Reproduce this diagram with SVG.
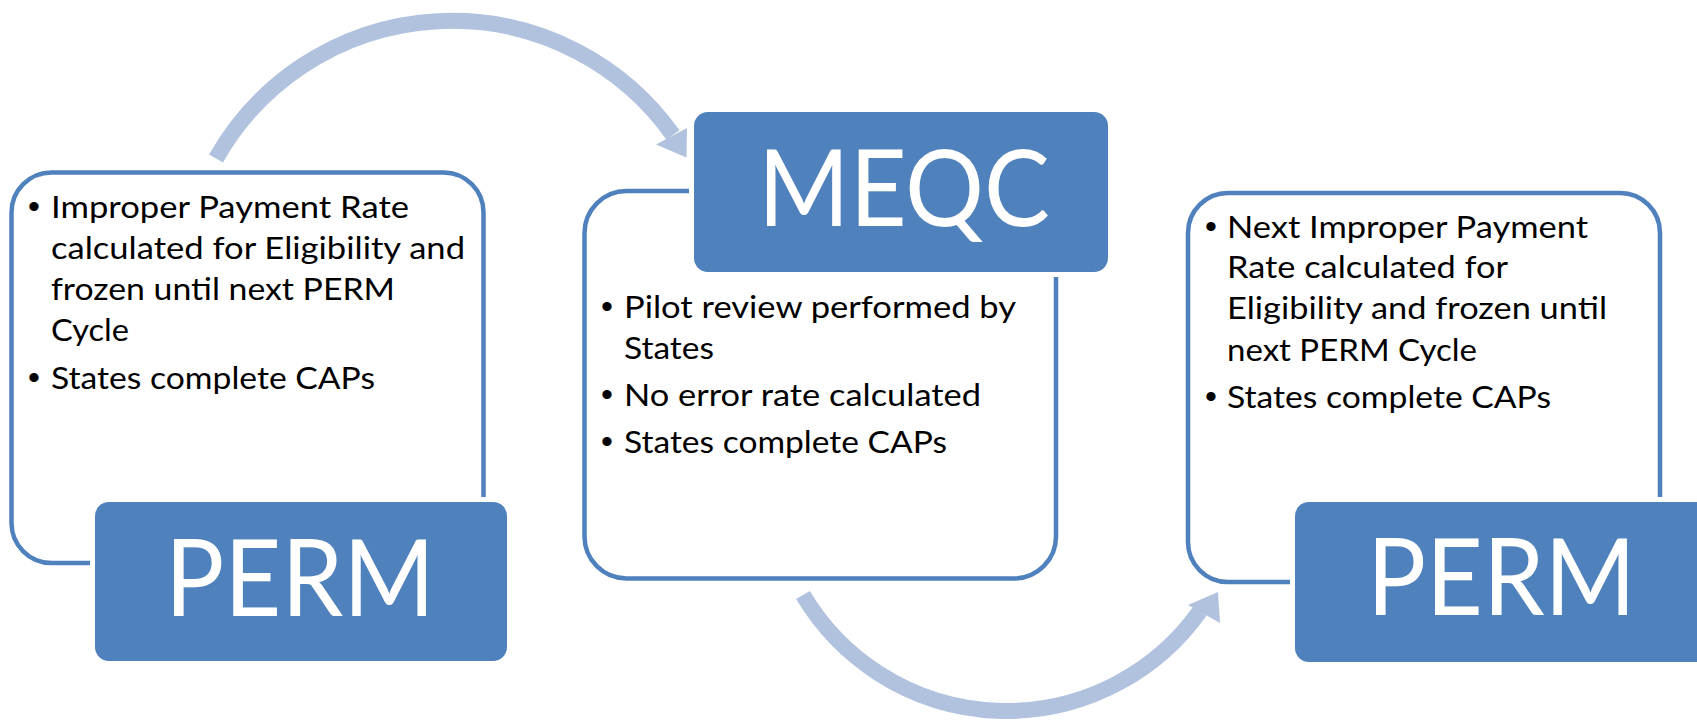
<svg xmlns="http://www.w3.org/2000/svg" width="1697" height="720" viewBox="0 0 1697 720">
<style>
.outline{fill:#FFFFFF;stroke:#4F81BD;stroke-width:4.5}
.head{fill:#4F81BD;stroke:#FFFFFF;stroke-width:10;paint-order:stroke}
.big{font-family:Lato,"Liberation Sans",sans-serif;font-size:106px;fill:#FFFFFF}
.txt{font-family:Lato,"Liberation Sans",sans-serif;font-size:31px;fill:#000000}
.bul{font-family:"Liberation Sans",sans-serif;font-size:34px;fill:#000000}
.arc{fill:none;stroke:#B1C2DE;stroke-width:16}
.tip{fill:#B1C2DE}
</style>
<rect width="1697" height="720" fill="#FFFFFF"/>
<g id="connectors">
<path class="arc" d="M216,158.5 A271,271 0 0,1 673,135"/>
<polygon class="tip" points="656,144.5 686.5,157.5 687,128"/>
<path class="arc" d="M803,595 A237,237 0 0,0 1200,611"/>
<polygon class="tip" points="1188,605 1218,592 1220,623"/>
</g>
<g id="perm-left">
<rect class="outline" x="11.5" y="172.5" width="472" height="390.5" rx="40"/>
<rect class="head" x="95" y="502" width="412" height="159" rx="14"/>
<text class="big" x="165" y="616" textLength="270" lengthAdjust="spacingAndGlyphs">PERM</text>
<text class="bul" x="28" y="218">•</text>
<text class="txt" x="51" y="218" textLength="358" lengthAdjust="spacingAndGlyphs">Improper Payment Rate</text>
<text class="txt" x="51" y="259" textLength="414" lengthAdjust="spacingAndGlyphs">calculated for Eligibility and</text>
<text class="txt" x="51" y="300" textLength="344" lengthAdjust="spacingAndGlyphs">frozen until next PERM</text>
<text class="txt" x="51" y="341" textLength="78" lengthAdjust="spacingAndGlyphs">Cycle</text>
<text class="bul" x="28" y="389">•</text>
<text class="txt" x="51" y="389" textLength="324" lengthAdjust="spacingAndGlyphs">States complete CAPs</text>
</g>
<g id="meqc">
<rect class="outline" x="584.5" y="191" width="471.5" height="387.5" rx="42"/>
<rect class="head" x="694" y="112" width="414" height="160" rx="14"/>
<text class="big" x="758" y="226" textLength="292" lengthAdjust="spacingAndGlyphs">MEQC</text>
<text class="bul" x="601" y="318">•</text>
<text class="txt" x="624" y="318" textLength="392" lengthAdjust="spacingAndGlyphs">Pilot review performed by</text>
<text class="txt" x="624" y="359" textLength="90" lengthAdjust="spacingAndGlyphs">States</text>
<text class="bul" x="601" y="406">•</text>
<text class="txt" x="624" y="406" textLength="357" lengthAdjust="spacingAndGlyphs">No error rate calculated</text>
<text class="bul" x="601" y="453">•</text>
<text class="txt" x="624" y="453" textLength="323" lengthAdjust="spacingAndGlyphs">States complete CAPs</text>
</g>
<g id="perm-right">
<rect class="outline" x="1188" y="193" width="472" height="389" rx="40"/>
<rect class="head" x="1295" y="502" width="430" height="160" rx="14"/>
<text class="big" x="1367" y="615" textLength="269" lengthAdjust="spacingAndGlyphs">PERM</text>
<text class="bul" x="1205" y="238">•</text>
<text class="txt" x="1227" y="238" textLength="361" lengthAdjust="spacingAndGlyphs">Next Improper Payment</text>
<text class="txt" x="1227" y="278" textLength="281" lengthAdjust="spacingAndGlyphs">Rate calculated for</text>
<text class="txt" x="1227" y="319" textLength="380" lengthAdjust="spacingAndGlyphs">Eligibility and frozen until</text>
<text class="txt" x="1227" y="361" textLength="250" lengthAdjust="spacingAndGlyphs">next PERM Cycle</text>
<text class="bul" x="1205" y="408">•</text>
<text class="txt" x="1227" y="408" textLength="324" lengthAdjust="spacingAndGlyphs">States complete CAPs</text>
</g>
</svg>
